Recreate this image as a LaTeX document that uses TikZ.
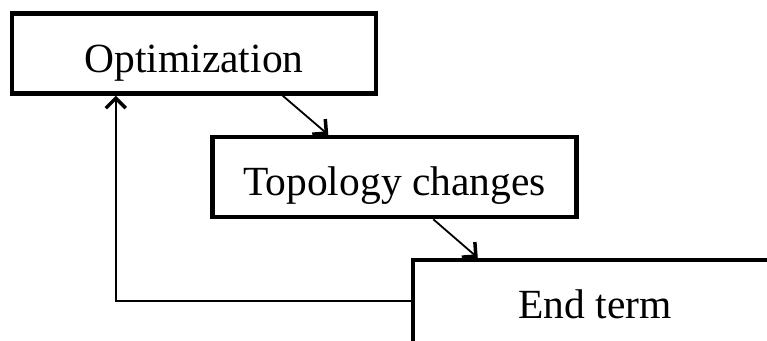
\documentclass[tikz,border=0pt]{standalone}
\usepackage{fontspec}
\setmainfont{Liberation Serif}
\usetikzlibrary{arrows.meta}
\begin{document}
\begin{tikzpicture}[x=1pt,y=-1pt,
					stepnode/.style={rectangle,
					line width=4.5pt,
					inner sep=0pt,
					minimum width=364pt,
					minimum height=80pt,
					text height=37pt,
					text depth=0pt,
					draw=black,
					fill=white,
					font=\fontsize{41.5}{50}\selectfont},
					flowarrow/.style={line width=1.8pt,
					-{Straight Barb[length=10pt,width=20pt,line width=3.5pt]}}
					]

% page size, the last box runs off the edge
\useasboundingbox (0,0) rectangle (767,340);

%step nodes
\node[stepnode] (opt)  at (194,53.5) {Optimization};
\node[stepnode] (topo) at (394.5,177) {Topology changes};
\node[stepnode, minimum height=90pt, text height=26pt] (endt) at (595,305) {End term};

%forward arrows
\draw[flowarrow] ([xshift=273pt]opt.south west) -- ([xshift=118pt]topo.north west);
\draw[flowarrow] ([xshift=223pt]topo.south west) -- ([xshift=67pt]endt.north west);

%loop back
\draw[flowarrow] ([yshift=4pt]endt.west) -| ([xshift=106pt]opt.south west);
\end{tikzpicture}
\end{document}
